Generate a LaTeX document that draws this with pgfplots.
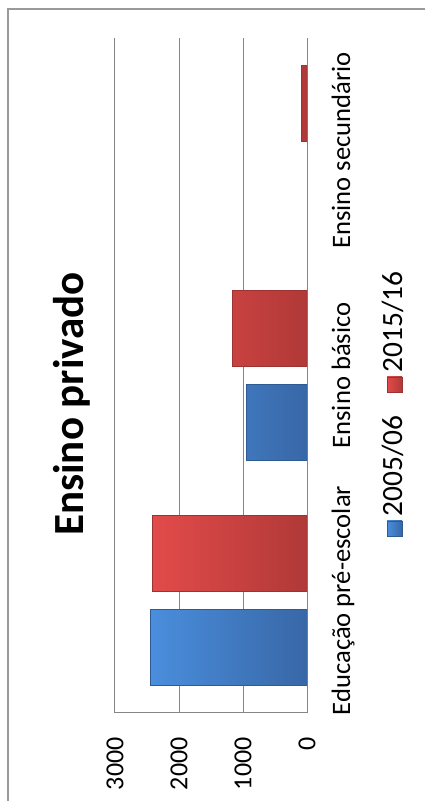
\documentclass[border=0pt]{standalone}
\usepackage{fontspec}
\setmainfont{Carlito}
\usepackage{pgfplots}
\pgfplotsset{compat=1.18}
\definecolor{gridgray}{HTML}{868686}
\definecolor{framegray}{HTML}{9A9A9A}
\definecolor{blueL}{HTML}{4A8EDD}
\definecolor{blueR}{HTML}{3867A6}
\definecolor{blueE}{HTML}{2F5B94}
\definecolor{redL}{HTML}{E24B4A}
\definecolor{redR}{HTML}{B03937}
\definecolor{redE}{HTML}{9A3331}
\begin{document}
\begin{tikzpicture}
\useasboundingbox (0,0) rectangle (212.5pt,400.5pt);
\draw[framegray, line width=0.8pt] (4pt,0) -- (4pt,396pt) -- (212.5pt,396pt);
\begin{axis}[
  at={(57.5pt,44pt)}, anchor=south west,
  scale only axis, width=96pt, height=337.5pt,
  xbar, bar width=38pt,
  x dir=reverse,
  xmin=0, xmax=3000, ymin=-0.5, ymax=2.5,
  xtick={0,1000,2000,3000},
  ytick={0,1,2},
  yticklabels={Educação pré-escolar, Ensino básico, Ensino secundário},
  yticklabel pos=right,
  major tick length=0pt,
  xmajorgrids, grid style={gridgray, line width=0.5pt},
  axis line style={draw=none},
  /pgf/number format/assume math mode=true,
  /pgf/number format/1000 sep={},
  scaled x ticks=false,
  xticklabel style={yshift=-12pt, rotate=90, anchor=east, inner sep=0pt, font=\fontsize{13}{15}\selectfont},
  yticklabel style={xshift=21.5pt, rotate=90, anchor=base, inner sep=0pt, font=\fontsize{13.3}{16}\selectfont},
]
\addplot[draw=blueE, left color=blueL, right color=blueR, bar shift=-23.5pt]
  coordinates {(2440,0) (940,1)};
\addplot[draw=redE, left color=redL, right color=redR, bar shift=23.5pt]
  coordinates {(2420,0) (1170,1) (90,2)};
\draw[gridgray, line width=0.5pt] (axis cs:0,-0.5) -- (axis cs:3000,-0.5);
\end{axis}
\node[rotate=90, anchor=base, font=\bfseries\fontsize{21.5}{26}\selectfont] at (41.5pt,198.5pt) {Ensino privado};
% legend (rotated like the rest of the chart)
\draw[draw=blueE, left color=blueL, right color=blueR, line width=0.4pt] (193.5pt,132.5pt) rectangle (201pt,140pt);
\node[rotate=90, anchor=base west, inner sep=0pt, font=\fontsize{14.7}{18}\selectfont] at (201pt,142pt) {2005/06};
\draw[draw=redE, left color=redL, right color=redR, line width=0.4pt] (193.5pt,204.5pt) rectangle (201pt,212pt);
\node[rotate=90, anchor=base west, inner sep=0pt, font=\fontsize{14.7}{18}\selectfont] at (201pt,214pt) {2015/16};
\end{tikzpicture}
\end{document}
